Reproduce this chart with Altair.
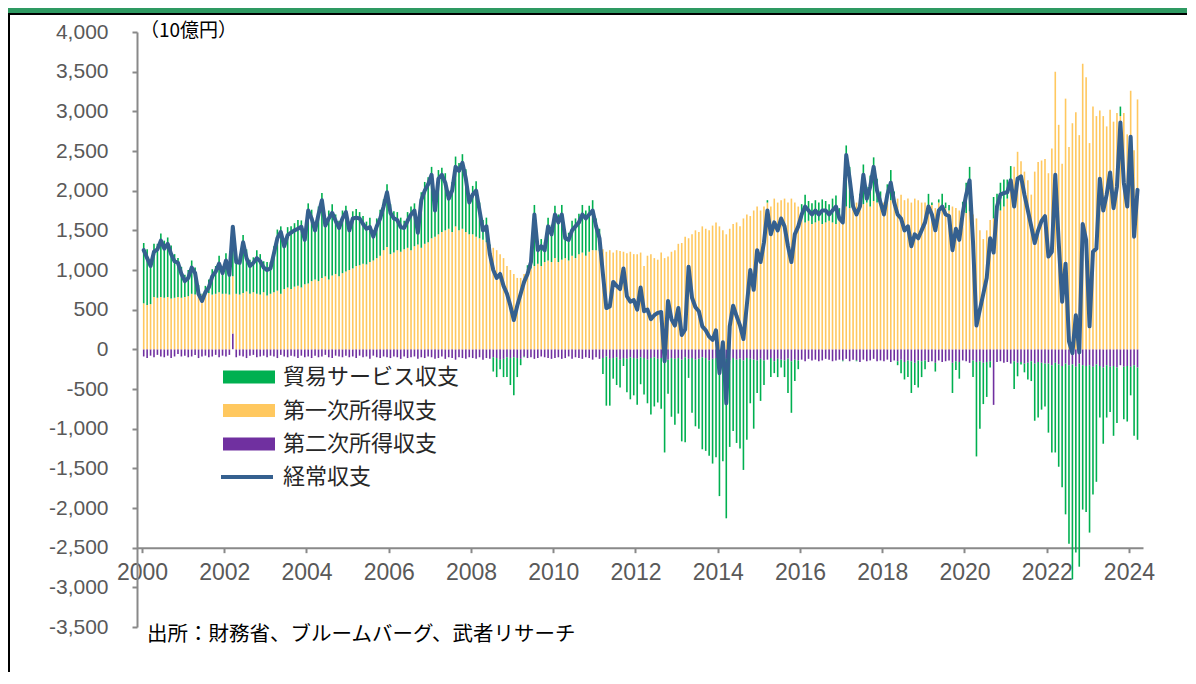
import altair as alt
import pandas as pd

# ---- data (10億円, seasonally adjusted monthly, Jan 2000 - Mar 2024) ----
ca_by_year = {
    2000: [1250, 1150, 1050, 1230, 1260, 1370, 1270, 1330, 1200, 1110, 1090, 950],
    2001: [860, 900, 1030, 960, 700, 610, 720, 780, 920, 980, 1080, 960],
    2002: [1120, 940, 1545, 1100, 1090, 1350, 1150, 1050, 1090, 1150, 1110, 1030],
    2003: [1000, 1020, 1210, 1400, 1480, 1300, 1440, 1470, 1500, 1520, 1545, 1380],
    2004: [1750, 1650, 1500, 1700, 1880, 1560, 1650, 1720, 1620, 1530, 1650, 1730],
    2005: [1500, 1650, 1660, 1650, 1580, 1520, 1540, 1420, 1550, 1650, 1800, 1980],
    2006: [1720, 1650, 1630, 1540, 1530, 1620, 1700, 1750, 1470, 1880, 2000, 2080],
    2007: [2200, 1750, 2150, 2200, 2100, 1900, 2000, 2300, 2250, 2350, 2150, 1850],
    2008: [1950, 2000, 1750, 1500, 1550, 1200, 1000, 900, 950, 800, 700, 550],
    2009: [370, 550, 700, 850, 950, 1100, 1700, 1250, 1300, 1250, 1550, 1450],
    2010: [1700, 1600, 1700, 1400, 1380, 1500, 1550, 1600, 1700, 1650, 1700, 1750],
    2011: [1550, 1400, 950, 520, 540, 850, 800, 760, 1020, 670, 600, 620],
    2012: [500, 780, 480, 500, 380, 430, 460, 470, -150, 610, 380, 300],
    2013: [520, 180, 250, 1040, 650, 530, 480, 290, 240, 160, 120, 240],
    2014: [-300, 90, -680, 290, 550, 420, 300, 130, 560, 1000, 750, 1250],
    2015: [1100, 1350, 1750, 1450, 1600, 1500, 1650, 1550, 1300, 1100, 1450, 1550],
    2016: [1700, 1800, 1750, 1700, 1750, 1700, 1750, 1750, 1700, 1750, 1800, 1650],
    2017: [1600, 2450, 2150, 1800, 1700, 1800, 2200, 1900, 2050, 2300, 2000, 1850],
    2018: [1700, 1950, 2100, 1850, 1700, 1650, 1500, 1550, 1300, 1450, 1400, 1500],
    2019: [1600, 1800, 1700, 1500, 1750, 1800, 1700, 1680, 1250, 1520, 1380, 1720],
    2020: [1950, 2130, 1350, 300, 500, 700, 900, 1400, 1220, 1800, 1950, 1970],
    2021: [1980, 2130, 1800, 2150, 2180, 1950, 1750, 1550, 1340, 1500, 1620, 1680],
    2022: [1170, 1230, 2200, 1350, 600, 1080, 100, -50, 430, -40, 1580, 1380],
    2023: [290, 1230, 1270, 2150, 1750, 1950, 2230, 1780, 2050, 2860, 2100, 1800],
    2024: [2680, 1420, 2010],
}
primary_by_year = {
    2000: [580, 560, 570, 660, 650, 660, 650, 660, 640, 650, 660, 650],
    2001: [660, 670, 700, 690, 680, 690, 700, 710, 690, 700, 720, 700],
    2002: [700, 690, 720, 700, 690, 710, 730, 700, 720, 700, 690, 720],
    2003: [680, 700, 720, 740, 700, 760, 780, 760, 790, 800, 780, 820],
    2004: [830, 860, 880, 860, 900, 920, 880, 930, 950, 920, 960, 980],
    2005: [1000, 1020, 1050, 1060, 1080, 1070, 1100, 1120, 1150, 1180, 1250, 1290],
    2006: [1200, 1220, 1250, 1230, 1260, 1280, 1250, 1300, 1320, 1280, 1330, 1350],
    2007: [1400, 1420, 1450, 1480, 1500, 1520, 1480, 1550, 1500, 1520, 1480, 1450],
    2008: [1450, 1420, 1400, 1380, 1350, 1300, 1280, 1250, 1200, 1150, 1050, 1000],
    2009: [950, 900, 900, 950, 1000, 1020, 1050, 1080, 1050, 1100, 1120, 1100],
    2010: [1150, 1100, 1130, 1150, 1120, 1180, 1150, 1200, 1220, 1180, 1230, 1250],
    2011: [1250, 1240, 1260, 1230, 1250, 1220, 1250, 1240, 1230, 1210, 1230, 1200],
    2012: [1200, 1220, 1050, 1180, 1200, 1150, 1130, 1220, 1150, 1170, 1230, 1250],
    2013: [1330, 1340, 1420, 1400, 1450, 1500, 1480, 1550, 1520, 1500, 1560, 1600],
    2014: [1550, 1500, 1450, 1520, 1580, 1600, 1550, 1650, 1700, 1680, 1750, 1800],
    2015: [1750, 1800, 1850, 1800, 1900, 1850, 1880, 1900, 1850, 1900, 1850, 1800],
    2016: [1650, 1600, 1620, 1580, 1600, 1620, 1580, 1600, 1620, 1600, 1580, 1620],
    2017: [1750, 1800, 1780, 1820, 1850, 1800, 1830, 1850, 1800, 1870, 1850, 1880],
    2018: [1850, 1900, 1880, 1920, 1900, 1950, 1880, 1900, 1850, 1900, 1880, 1850],
    2019: [1850, 1800, 1820, 1780, 1850, 1800, 1780, 1750, 1800, 1780, 1750, 1720],
    2020: [1720, 1740, 1700, 1650, 1500, 1390, 1500, 1630, 1650, 1700, 1750, 1800],
    2021: [1900, 2100, 2300, 2490, 2370, 2240, 2130, 1950, 2240, 2360, 2380, 2400],
    2022: [2220, 2530, 3500, 2830, 2340, 3160, 2550, 2850, 2990, 2700, 3600, 3430],
    2023: [2600, 3060, 2940, 3010, 2940, 2810, 3020, 2870, 2980, 2940, 2980, 2710],
    2024: [3260, 2510, 3150],
}
secondary_by_year = {
    2000: [-90, -110, -80, -100, -70, -90, -100, -80, -110, -90, -60, -90],
    2001: [-80, -100, -90, -70, -110, -90, -80, -100, -90, -70, -100, -80],
    2002: [-90, -70, 200, -100, -80, -90, -110, -80, -70, -100, -90, -80],
    2003: [-100, -80, -90, -110, -70, -90, -100, -80, -90, -110, -80, -100],
    2004: [-90, -110, -80, -100, -90, -70, -100, -110, -80, -90, -100, -80],
    2005: [-100, -90, -110, -80, -100, -90, -120, -80, -100, -110, -90, -100],
    2006: [-110, -90, -100, -120, -90, -110, -100, -90, -120, -100, -110, -90],
    2007: [-100, -120, -110, -90, -120, -100, -110, -130, -100, -110, -120, -100],
    2008: [-110, -120, -100, -130, -110, -120, -100, -110, -130, -120, -100, -110],
    2009: [-100, -110, -120, -90, -110, -100, -120, -110, -90, -100, -110, -120],
    2010: [-110, -100, -120, -110, -90, -120, -100, -110, -120, -100, -110, -130],
    2011: [-100, -120, -110, -90, -120, -110, -100, -130, -110, -120, -100, -110],
    2012: [-120, -100, -110, -130, -110, -100, -120, -110, -100, -130, -110, -120],
    2013: [-110, -130, -100, -120, -110, -130, -120, -100, -110, -140, -120, -110],
    2014: [-130, -110, -120, -140, -110, -130, -120, -140, -110, -120, -130, -140],
    2015: [-120, -140, -130, -110, -150, -120, -130, -140, -120, -150, -130, -140],
    2016: [-130, -150, -120, -140, -130, -150, -140, -120, -130, -150, -140, -130],
    2017: [-140, -120, -150, -130, -140, -160, -130, -150, -140, -120, -150, -140],
    2018: [-150, -130, -160, -140, -150, -130, -160, -140, -150, -170, -140, -150],
    2019: [-140, -160, -150, -170, -140, -160, -150, -140, -170, -150, -160, -140],
    2020: [-150, -170, -140, -160, -150, -170, -160, -150, -700, -160, -150, -170],
    2021: [-160, -180, -150, -170, -160, -180, -170, -150, -180, -160, -170, -180],
    2022: [-180, -200, -170, -190, -210, -180, -200, -190, -220, -180, -200, -210],
    2023: [-200, -220, -190, -210, -230, -200, -220, -210, -230, -200, -220, -210],
    2024: [-220, -200, -230],
}

series_names = ["貿易サービス収支", "第一次所得収支", "第二次所得収支"]
series_colors = ["#00B050", "#FFC85F", "#7030A0"]
line_name = "経常収支"
line_color = "#35608F"
x_ticks = list(range(2000, 2025, 2))
y_ticks = list(range(-3500, 4001, 500))
unit_label = "（10億円）"
source_note = "出所：財務省、ブルームバーグ、武者リサーチ"

# ---- build tables ----
ca, prim, sec, tpos = [], [], [], []
for yr in sorted(ca_by_year):
    for i, v in enumerate(ca_by_year[yr]):
        ca.append(v)
        prim.append(primary_by_year[yr][i])
        sec.append(secondary_by_year[yr][i])
        tpos.append(yr + i / 12 + 1 / 24)

bar_rows = []
line_rows = []
for t, c, p, s in zip(tpos, ca, prim, sec):
    trade = c - p - s
    bar_rows.append({"t": t, "s": series_names[2], "v": s, "o": 0})
    bar_rows.append({"t": t, "s": series_names[1], "v": p, "o": 1})
    bar_rows.append({"t": t, "s": series_names[0], "v": trade, "o": 2})
    line_rows.append({"t": t, "v": c, "n": line_name})
bars_df = pd.DataFrame(bar_rows)
line_df = pd.DataFrame(line_rows)

W, H = 1006, 595
axis_color = "#898989"
label_font = "Liberation Sans"
cjk_font = "Noto Sans CJK JP"

x_scale = alt.Scale(domain=[2000, 2024.22], nice=False, zero=False)
y_scale = alt.Scale(domain=[-3500, 4000], nice=False)

x_axis = alt.Axis(
    values=x_ticks, format="d", title=None, grid=False,
    offset=-(H * 1000 / 7500), tickSize=5, tickWidth=2, tickColor=axis_color,
    domainColor=axis_color, domainWidth=2, labelFont=label_font,
    labelFontSize=23, labelColor="#595959", labelPadding=9, labelFlush=False,
)
y_axis = alt.Axis(
    values=y_ticks, title=None, grid=False, tickSize=5, tickWidth=2,
    tickColor=axis_color, domainColor=axis_color, domainWidth=2,
    labelFont=label_font, labelFontSize=21, labelColor="#595959",
    labelPadding=24,
    labelExpr="datum.value < 0 ? '-' + format(-datum.value, ',') : format(datum.value, ',')",
)

bars = alt.Chart(bars_df).mark_bar(size=1.6).encode(
    x=alt.X("t:Q", scale=x_scale, axis=x_axis),
    y=alt.Y("v:Q", stack="zero", scale=y_scale, axis=y_axis),
    color=alt.Color(
        "s:N",
        scale=alt.Scale(domain=series_names, range=series_colors),
        legend=alt.Legend(
            title=None, orient="none", legendX=99, legendY=332, padding=0,
            symbolType="M-2,-0.5H2V0.5H-2Z", symbolSize=676,
            symbolStrokeWidth=0, rowPadding=9.5, labelOffset=21, labelLimit=0,
            labelFont=cjk_font, labelFontSize=22, labelColor="#262626",
        ),
    ),
    order=alt.Order("o:Q"),
)

line = alt.Chart(line_df).mark_line(
    strokeWidth=4, strokeJoin="round", strokeCap="round"
).encode(
    x=alt.X("t:Q", scale=x_scale, axis=x_axis),
    y=alt.Y("v:Q", scale=y_scale, axis=y_axis),
    stroke=alt.Stroke(
        "n:N",
        scale=alt.Scale(domain=[line_name], range=[line_color]),
        legend=alt.Legend(
            title=None, orient="none", legendX=95, legendY=430, padding=0,
            symbolType="M-2,0H2", symbolSize=676, symbolStrokeWidth=4,
            labelOffset=21, labelLimit=0, labelFont=cjk_font, labelFontSize=22,
            labelColor="#262626",
        ),
    ),
)

one = pd.DataFrame({"k": [0]})
unit = alt.Chart(one).mark_text(
    align="left", baseline="middle", font=cjk_font, fontSize=19, color="#000000"
).encode(x=alt.value(3), y=alt.value(-1), text=alt.value(unit_label))

note = alt.Chart(one).mark_text(
    align="left", baseline="middle", font=cjk_font, fontSize=20.5, color="#000000"
).encode(x=alt.value(10), y=alt.value(603), text=alt.value(source_note))

band = alt.Chart(one).mark_rect(color="#2E9A62").encode(
    x=alt.value(-129), x2=alt.value(1051), y=alt.value(-24), y2=alt.value(-19)
)
band_line = alt.Chart(one).mark_rect(color="#000000").encode(
    x=alt.value(-129), x2=alt.value(1051), y=alt.value(-19), y2=alt.value(-17)
)
left_line = alt.Chart(one).mark_rect(color="#000000").encode(
    x=alt.value(-129), x2=alt.value(-127), y=alt.value(-19), y2=alt.value(650)
)

chart = alt.layer(bars, line, unit, note, band, band_line, left_line).resolve_scale(
    color="independent"
).properties(
    width=W, height=H,
    autosize=alt.AutoSizeParams(type="none"),
    padding={"left": 129, "top": 24, "right": 44, "bottom": 45},
).configure_view(stroke=None).configure_axis(grid=False)

chart.save("out.html", embed_options={"renderer": "svg", "actions": False})
